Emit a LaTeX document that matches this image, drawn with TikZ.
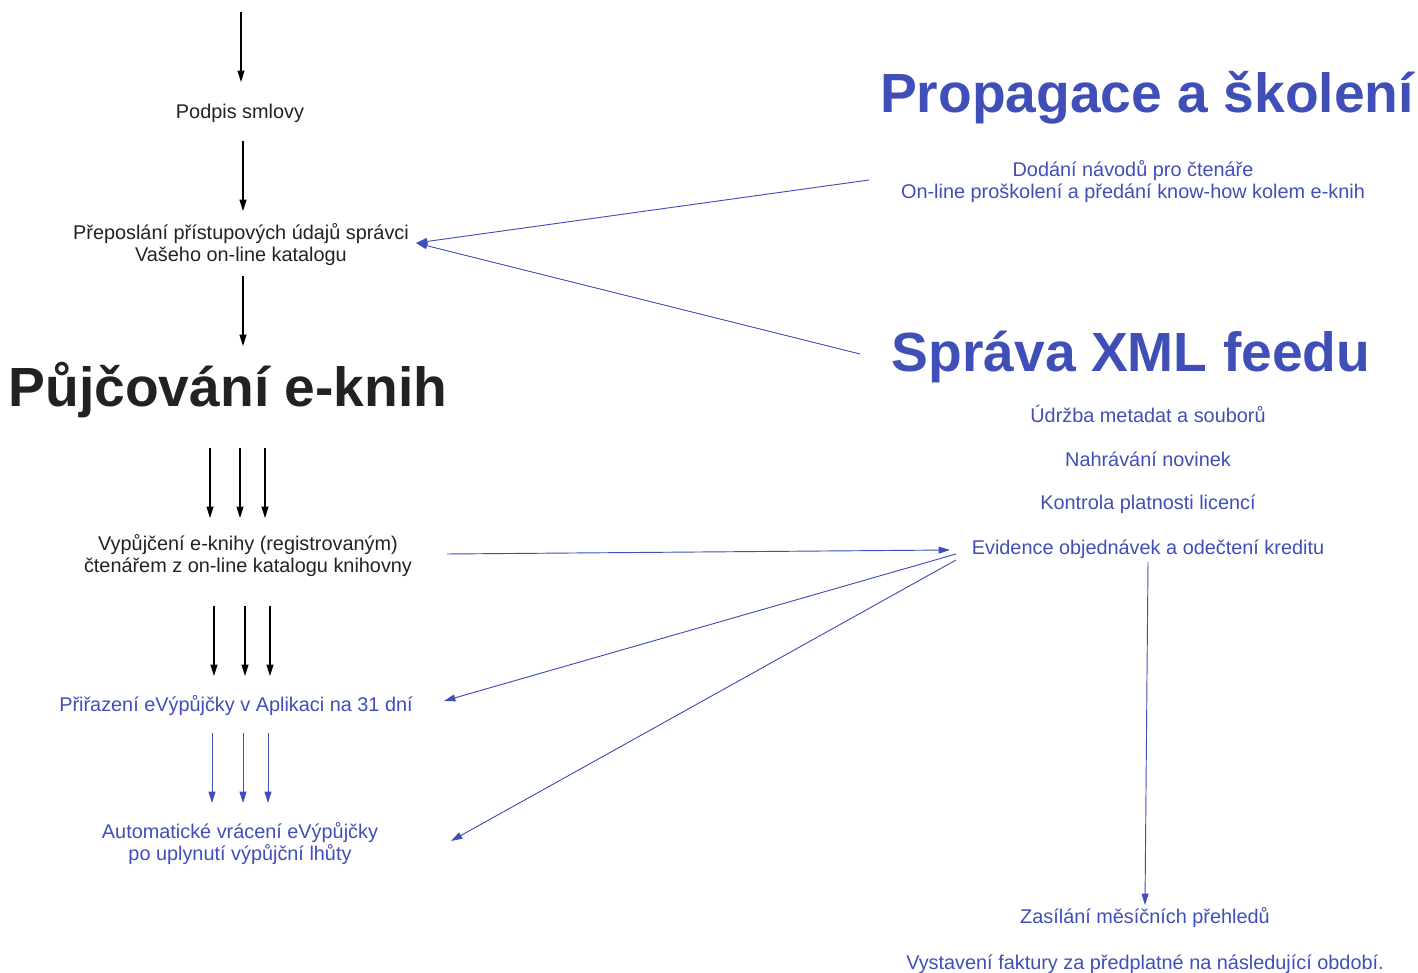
\documentclass[tikz,border=0pt]{standalone}
\usepackage{fontspec}
\setmainfont{Liberation Sans}
\usetikzlibrary{arrows.meta,calc}
\definecolor{myblue}{RGB}{63,79,183}
\definecolor{mydark}{RGB}{34,34,34}
\begin{document}
\begin{tikzpicture}[x=0.75pt,y=-0.75pt,
  txt/.style={inner sep=0pt,align=center,text=mydark,font=\fontsize{14.9}{16.5}\selectfont},
  btxt/.style={txt,text=myblue},
  bigtitle/.style={inner sep=0pt,text=mydark,font=\fontsize{41.4}{46}\selectfont\bfseries},
  bluetitle/.style={bigtitle,text=myblue},
  karr/.style={draw=black,line width=0.8pt,-{Triangle[length=8.5pt,width=5.2pt]}},
  barr/.style={draw=myblue,line width=0.7pt,-{Triangle[length=8.5pt,width=5.2pt]}}]
\useasboundingbox (0,0) rectangle (1418,973);
% left column
\coordinate (top) at (241,12);
\node[txt] (podpis) at (240,113) {Podpis smlovy};
\node[txt] (prep) at (241,245) {Přeposlání přístupových údajů správci\\Vašeho on-line katalogu};
\node[bigtitle] (title) at (228,390) {Půjčování e-knih};
\node[txt] (vyp) at (248,556) {Vypůjčení e-knihy (registrovaným)\\čtenářem z on-line katalogu knihovny};
\node[btxt] (prir) at (236,706) {Přiřazení eVýpůjčky v Aplikaci na 31 dní};
\node[btxt] (auto) at (240,844) {Automatické vrácení eVýpůjčky\\po uplynutí výpůjční lhůty};
% right column
\node[bluetitle] (prop) at (1147,98) {Propagace a školení};
\node[btxt] (dodani) at (1133,182) {Dodání návodů pro čtenáře\\On-line proškolení a předání know-how kolem e-knih};
\node[bluetitle] (sprava) at (1131,357) {Správa XML feedu};
\node[btxt] (udrzba) at (1148,414) {Údržba metadat a souborů};
\node[btxt] (nahr) at (1148,459) {Nahrávání novinek};
\node[btxt] (kontr) at (1148,504) {Kontrola platnosti licencí};
\node[btxt] (evid) at (1148,549) {Evidence objednávek a odečtení kreditu};
\node[btxt] (zas) at (1145,918) {Zasílání měsíčních přehledů};
\node[btxt] (fakt) at (1145,964) {Vystavení faktury za předplatné na následující období.};
% black arrows
\draw[karr] (top) -- ($(podpis)+(1,-31)$);
\draw[karr] ($(podpis)+(3,28)$) -- ($(prep)+(2,-34)$);
\draw[karr] ($(prep)+(2,31)$) -- ($(title)+(15,-44)$);
\draw[karr] ($(title)+(-18,58)$) -- ($(vyp)+(-38,-38)$);
\draw[karr] ($(title)+(12,58)$) -- ($(vyp)+(-8,-38)$);
\draw[karr] ($(title)+(37,58)$) -- ($(vyp)+(17,-38)$);
\draw[karr] ($(vyp)+(-34,50)$) -- ($(prir)+(-22,-30)$);
\draw[karr] ($(vyp)+(-3,50)$) -- ($(prir)+(9,-30)$);
\draw[karr] ($(vyp)+(22,50)$) -- ($(prir)+(34,-30)$);
% blue arrows
\draw[barr] ($(prir)+(-24,27)$) -- ($(auto)+(-28,-41)$);
\draw[barr] ($(prir)+(7,27)$) -- ($(auto)+(3,-41)$);
\draw[barr] ($(prir)+(32,27)$) -- ($(auto)+(28,-41)$);
\draw[barr] ($(dodani)+(-264,-2)$) -- ($(prep)+(175,-2)$);
\draw[barr] ($(sprava)+(-271,-3)$) -- ($(prep)+(175,-2)$);
\draw[barr] ($(vyp)+(199,-2)$) -- ($(evid)+(-198,1)$);
\draw[barr] ($(evid)+(-192,5)$) -- ($(prir)+(208,-5)$);
\draw[barr] ($(evid)+(-192,11)$) -- ($(auto)+(211,-3)$);
\draw[barr] ($(evid)+(0,13)$) -- ($(zas)+(0,-13)$);
\end{tikzpicture}
\end{document}
